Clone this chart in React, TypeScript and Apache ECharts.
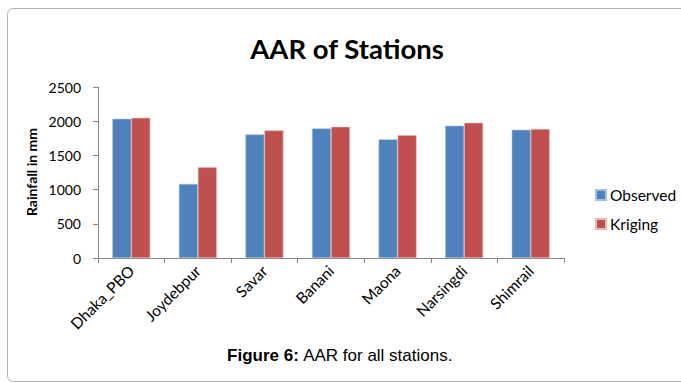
import React, { useEffect, useRef } from "react";
import * as echarts from "echarts";

const categories = ["Dhaka_PBO", "Joydebpur", "Savar", "Banani", "Maona", "Narsingdi", "Shimrail"];
const observed = [2035, 1083, 1807, 1895, 1735, 1933, 1875];
const kriging = [2050, 1326, 1866, 1918, 1797, 1977, 1885];
const yTicks = [0, 500, 1000, 1500, 2000, 2500];

export default function App() {
  const ref = useRef<HTMLDivElement>(null);
  useEffect(() => {
    if (!ref.current) return;
    const chart = echarts.init(ref.current, null, { renderer: "svg" });
    chart.setOption({
      animation: false,
      backgroundColor: "#ffffff",
      title: {
        text: "AAR of Stations",
        left: 342,
        top: 29,
        textAlign: "center",
        textStyle: { fontFamily: "Lato", fontWeight: "bold", fontSize: 27.5, color: "#000" },
      },
      legend: {
        orient: "vertical",
        left: 590,
        top: 182,
        itemWidth: 10,
        itemHeight: 10,
        itemGap: 13,
        icon: "rect",
        textStyle: { fontFamily: "Lato", fontSize: 15.5, color: "#000", padding: [0, 0, 0, -1] },
        data: ["Observed", "Kriging"],
      },
      grid: { left: 98, right: 117, top: 87, bottom: 125, containLabel: false },
      xAxis: {
        type: "category",
        data: categories,
        axisLine: { lineStyle: { color: "#868686", width: 1 } },
        axisTick: { show: true, length: 5, alignWithLabel: false, lineStyle: { color: "#868686" } },
        axisLabel: {
          rotate: 45,
          interval: 0,
          margin: 10,
          fontFamily: "Lato",
          fontSize: 15.5,
          color: "#000",
        },
      },
      yAxis: {
        type: "value",
        min: yTicks[0],
        max: yTicks[yTicks.length - 1],
        interval: 500,
        axisLine: { show: true, lineStyle: { color: "#868686", width: 1 } },
        axisTick: { show: true, length: 5, lineStyle: { color: "#868686" } },
        splitLine: { show: false },
        axisLabel: {
          fontFamily: "Lato",
          fontSize: 14,
          color: "#000",
          margin: 17,
          formatter: (v: number) => String(v),
        },
      },
      series: [
        {
          name: "Observed",
          type: "bar",
          data: observed,
          barWidth: 19,
          barGap: "0%",
          itemStyle: { color: "#4F81BD", borderColor: "#A7BFDE", borderWidth: 0.6 },
        },
        {
          name: "Kriging",
          type: "bar",
          data: kriging,
          barWidth: 19,
          barGap: "0%",
          itemStyle: { color: "#C0504D", borderColor: "#E6B9B8", borderWidth: 0.6 },
        },
      ],
      graphic: [
        {
          type: "rect",
          shape: { x: 7.5, y: 8.5, width: 700, height: 373, r: 6 },
          style: { fill: "none", stroke: "#b0b0b0", lineWidth: 1 },
          silent: true,
          z: -1,
        },
        {
          type: "text",
          x: 31,
          y: 172,
          rotation: Math.PI / 2,
          style: {
            text: "Rainfall in mm",
            fontFamily: "Lato",
            fontWeight: "bold",
            fontSize: 14,
            fill: "#000",
            align: "center",
            verticalAlign: "middle",
          },
        },
        {
          type: "text",
          x: 340,
          y: 355,
          style: {
            text: "{b|Figure 6:} AAR for all stations.",
            rich: {
              b: { fontFamily: "Liberation Sans", fontWeight: "bold", fontSize: 17, fill: "#000" },
            },
            fontFamily: "Liberation Sans",
            fontSize: 17,
            fill: "#000",
            align: "center",
            verticalAlign: "middle",
          },
        },
      ],
    });
    return () => chart.dispose();
  }, []);
  return <div ref={ref} style={{ width: 681, height: 383, position: "absolute", left: 0, top: 0 }} />;
}
